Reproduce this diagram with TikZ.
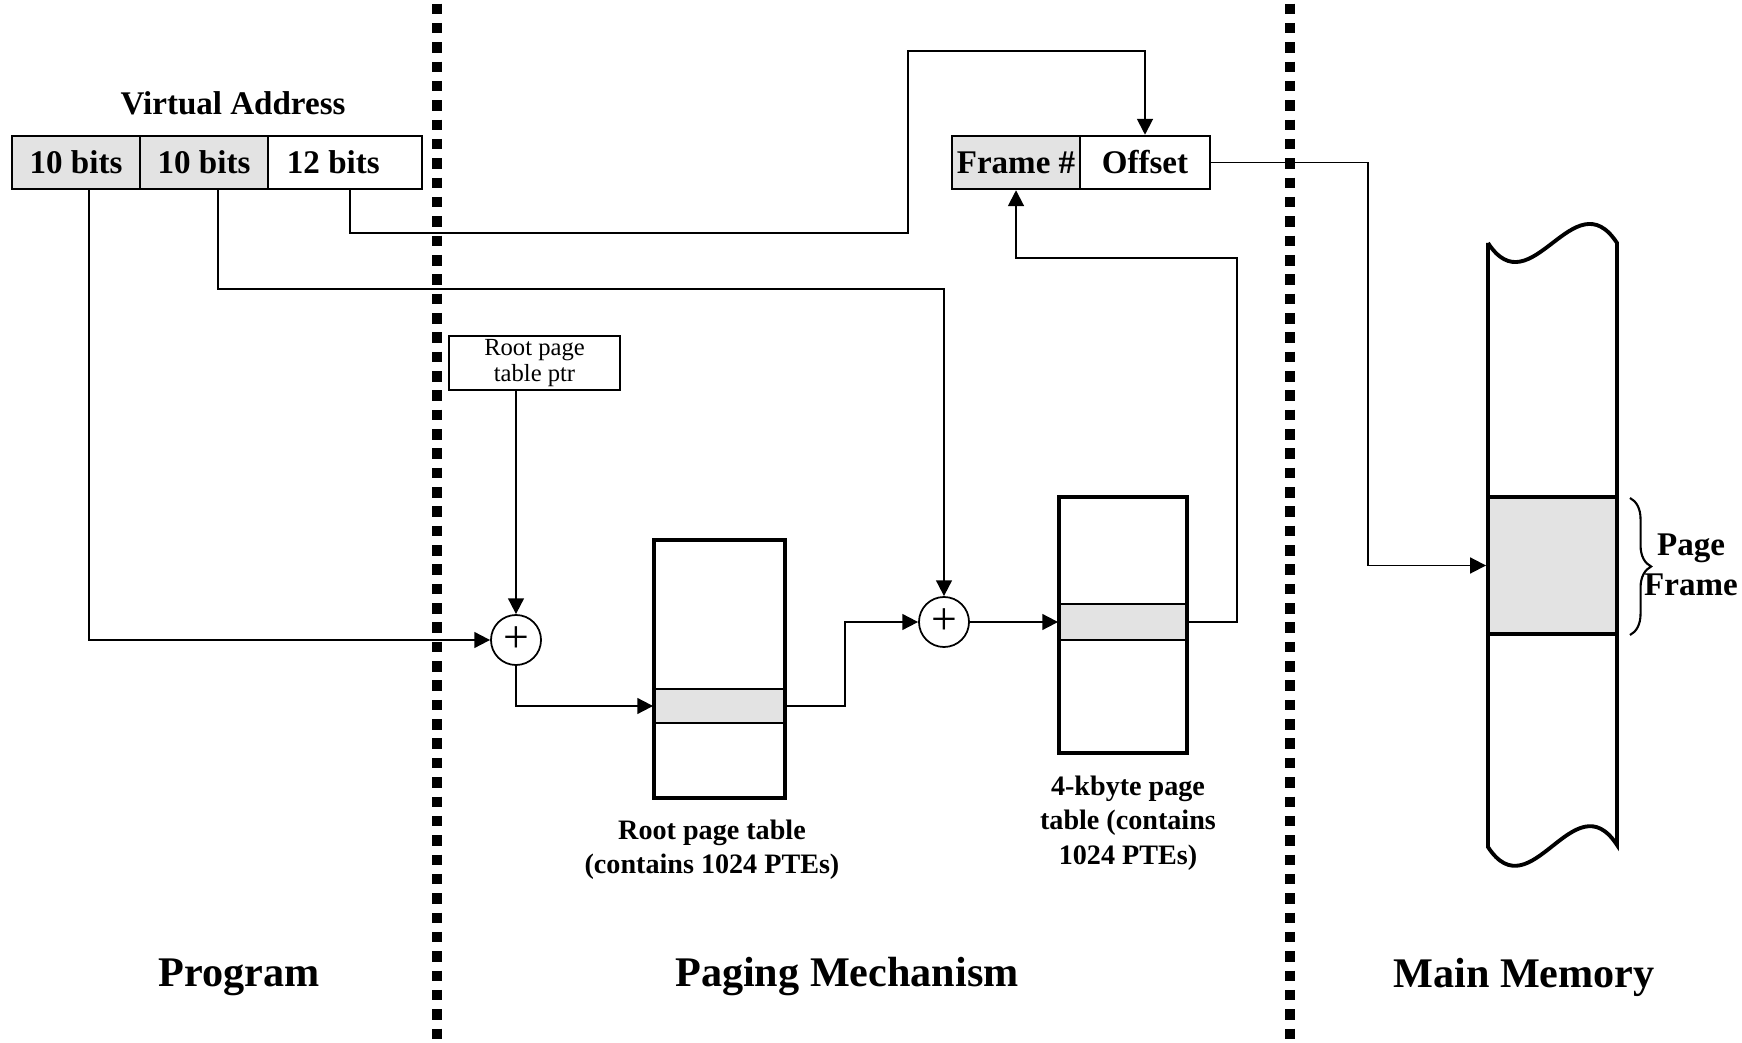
\documentclass[tikz,border=0pt]{standalone}
\usepackage{fontspec}
\setmainfont{Liberation Serif}
\usetikzlibrary{arrows.meta,calc,positioning,decorations.pathreplacing}
\definecolor{shade}{gray}{0.89}
\tikzset{
  cell/.style    = {draw, line width=0.7pt, minimum height=0.53cm, inner sep=0pt,
                    font=\fontsize{9.4}{11}\selectfont\bfseries},
  ptrbox/.style  = {draw, line width=0.6pt, align=center, inner sep=0pt,
                    minimum width=1.71cm, minimum height=0.54cm,
                    font=\fontsize{7}{7.6}\selectfont},
  adder/.style   = {circle, draw, line width=0.5pt, minimum size=0.5cm, inner sep=0pt,
                    font=\fontsize{13}{13}\selectfont},
  tbl/.style     = {draw, line width=1.1pt, inner sep=0pt},
  entry/.style   = {draw, line width=0.5pt, fill=shade, inner sep=0pt},
  link/.style    = {line width=0.55pt, -{Triangle[length=4.5pt,width=4.5pt]}},
  divider/.style = {line width=2.6pt, dash pattern=on 3pt off 2.5pt, dash phase=-1pt},
  lbl/.style     = {font=\fontsize{9.4}{11.5}\selectfont\bfseries, align=center},
  caption/.style = {font=\fontsize{8}{9.8}\selectfont\bfseries, align=center},
  region/.style  = {font=\fontsize{12}{14}\selectfont\bfseries},
}

\begin{document}
\begin{tikzpicture}[x=0.01cm,y=-0.01cm]
  \useasboundingbox (0,0) rectangle (1742,1043);
  % separators
  \draw[divider] (437,0) -- (437,1043);
  \draw[divider] (1290,0) -- (1290,1043);
  % virtual address
  \node[lbl] (valbl) at (233,103) {Virtual Address};
  \node[cell, fill=shade, minimum width=1.28cm] (va1) at (76,162.5) {10 bits};
  \node[cell, fill=shade, minimum width=1.28cm] (va2) at (204,162.5) {10 bits};
  \node[cell, minimum width=1.54cm, text width=1.16cm, align=flush left] (va3) at (345,162.5) {12 bits};
  % physical address
  \node[cell, fill=shade, minimum width=1.28cm] (frame) at (1016,162.5) {Frame \#};
  \node[cell, minimum width=1.30cm] (offset) at (1145,162.5) {Offset};
  \node[ptrbox] (rootptr) at (534.5,363) {Root page\\table ptr};
  \node[adder] (plus1) at (516,640) {+};
  \node[adder] (plus2) at (944,622) {+};
  % page tables
  \node[entry, minimum width=1.31cm, minimum height=0.34cm] (rootent) at (719.5,706) {};
  \node[tbl, minimum width=1.31cm, minimum height=2.58cm] (roottbl) at (719.5,669) {};
  \node[entry, minimum width=1.28cm, minimum height=0.36cm] (pt4kent) at (1123,622) {};
  \node[tbl, minimum width=1.28cm, minimum height=2.56cm] (pt4k) at (1123,625) {};
  \node[caption] (rootcap) at (712,849.5) {Root page table\\(contains 1024 PTEs)};
  \node[caption] (pt4kcap) at (1128,823) {4-kbyte page\\table (contains\\1024 PTEs)};
  % main memory
  \node[draw, line width=1.1pt, fill=shade, minimum width=1.29cm, minimum height=1.37cm]
      (memframe) at (1552.5,565.5) {};
  \draw[line width=1.1pt] (1488,243) -- (1488,847)
      .. controls (1531,913) and (1574,779) .. (1617,845) -- (1617,243)
      .. controls (1574,177) and (1531,309) .. (1488,243);
  \draw[decorate, decoration={brace, amplitude=6pt}, line width=0.6pt]
      (1630,498) -- (1630,635);
  \node[lbl] (pflbl) at (1691,565) {Page\\Frame};
  % connectors
  \draw[link] ([xshift=0.13cm]va1.south) |- (plus1);
  \draw[link] ([xshift=0.14cm]va2.south) -- ++(0,99) -| (plus2);
  \draw[link] ([xshift=0.05cm]va3.south) |- (908,233) -- (908,51) -| (offset);
  \draw[link] (rootptr.south -| plus1) -- (plus1);
  \draw[link] (plus1) |- (rootent);
  \draw[link] (rootent.east) -- ++(59,0) |- (plus2);
  \draw[link] (plus2) -- (pt4kent);
  \draw[link] (pt4kent.east) -| (1237,258) -| (frame);
  \draw[link] (offset.east) -| ([xshift=-1.18cm]memframe.west) -- (memframe);
  % regions
  \node[region] (prog) at (239,977) {Program};
  \node[region] (paging) at (847,977) {Paging Mechanism};
  \node[region] (mainmem) at (1524,977) {Main Memory};
\end{tikzpicture}
\end{document}
